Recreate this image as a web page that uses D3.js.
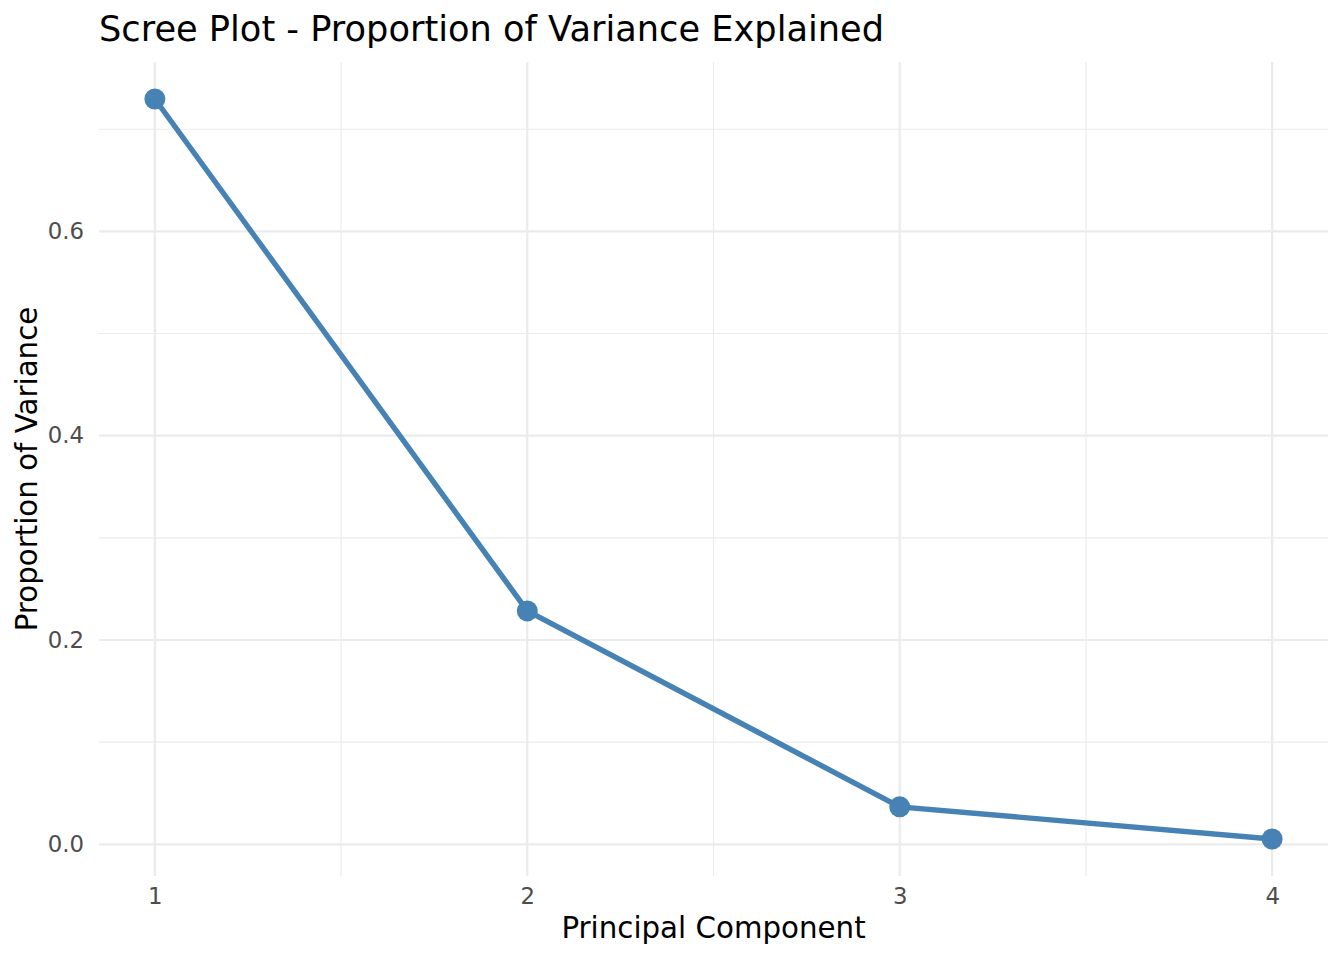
<!DOCTYPE html>
<html>
<head>
<meta charset="utf-8">
<script src="https://cdn.jsdelivr.net/npm/d3@7"></script>
<style>
  body { margin: 0; background: #fff; }
  svg text { font-family: "DejaVu Sans", sans-serif; }
</style>
</head>
<body>
<div id="chart"></div>
<script>
var components = [1, 2, 3, 4];
var varianceProp = [0.7296, 0.2285, 0.0367, 0.0052];
var yTicks = [0.0, 0.2, 0.4, 0.6];
var yMinor = [0.1, 0.3, 0.5, 0.7];
var xMinor = [1.5, 2.5, 3.5];

var width = 1344, height = 960;
var panelLeft = 99, panelRight = 1328, panelTop = 62, panelBottom = 876;

var svg = d3.select("#chart")
    .append("svg")
    .attr("width", width)
    .attr("height", height);

// ggplot style 5% expansion on both axes
var xPad = 0.05 * (d3.max(components) - d3.min(components));
var x = d3.scaleLinear()
    .domain([d3.min(components) - xPad, d3.max(components) + xPad])
    .range([panelLeft, panelRight]);
var yPad = 0.05 * (d3.max(varianceProp) - d3.min(varianceProp));
var y = d3.scaleLinear()
    .domain([d3.min(varianceProp) - yPad, d3.max(varianceProp) + yPad])
    .range([panelBottom, panelTop]);

var grid = svg.append("g");
// minor grid
grid.selectAll("line.ymin").data(yMinor).enter().append("line")
    .attr("x1", panelLeft).attr("x2", panelRight)
    .attr("y1", function(d) { return y(d); }).attr("y2", function(d) { return y(d); })
    .attr("stroke", "#ebebeb").attr("stroke-width", 1.1);
grid.selectAll("line.xmin").data(xMinor).enter().append("line")
    .attr("y1", panelTop).attr("y2", panelBottom)
    .attr("x1", function(d) { return x(d); }).attr("x2", function(d) { return x(d); })
    .attr("stroke", "#ebebeb").attr("stroke-width", 1.1);
// major grid
grid.selectAll("line.ymaj").data(yTicks).enter().append("line")
    .attr("x1", panelLeft).attr("x2", panelRight)
    .attr("y1", function(d) { return y(d); }).attr("y2", function(d) { return y(d); })
    .attr("stroke", "#ebebeb").attr("stroke-width", 2.2);
grid.selectAll("line.xmaj").data(components).enter().append("line")
    .attr("y1", panelTop).attr("y2", panelBottom)
    .attr("x1", function(d) { return x(d); }).attr("x2", function(d) { return x(d); })
    .attr("stroke", "#ebebeb").attr("stroke-width", 2.2);

// axes (labels only)
var yAxis = svg.append("g")
    .attr("transform", "translate(" + panelLeft + ",0)")
    .call(d3.axisLeft(y).tickValues(yTicks).tickFormat(d3.format(".1f")).tickSize(0).tickPadding(15));
yAxis.select(".domain").remove();
yAxis.selectAll("text").attr("fill", "#4d4d4d").style("font-size", "22.8px");

var xAxis = svg.append("g")
    .attr("transform", "translate(0," + panelBottom + ")")
    .call(d3.axisBottom(x).tickValues(components).tickFormat(d3.format("d")).tickSize(0).tickPadding(12));
xAxis.select(".domain").remove();
xAxis.selectAll("text").attr("fill", "#4d4d4d").style("font-size", "22.8px");

// line + points
var line = d3.line()
    .x(function(d, i) { return x(components[i]); })
    .y(function(d) { return y(d); });
svg.append("path")
    .datum(varianceProp)
    .attr("d", line)
    .attr("fill", "none")
    .attr("stroke", "steelblue")
    .attr("stroke-width", 5.4);
svg.selectAll("circle.pt").data(varianceProp).enter().append("circle")
    .attr("cx", function(d, i) { return x(components[i]); })
    .attr("cy", function(d) { return y(d); })
    .attr("r", 10.5)
    .attr("fill", "steelblue");

// titles
svg.append("text")
    .attr("x", 99).attr("y", 41)
    .style("font-size", "35.2px")
    .attr("fill", "#000")
    .text("Scree Plot - Proportion of Variance Explained");
svg.append("text")
    .attr("x", (panelLeft + panelRight) / 2).attr("y", 938)
    .attr("text-anchor", "middle")
    .style("font-size", "29.3px")
    .attr("fill", "#000")
    .text("Principal Component");
svg.append("text")
    .attr("transform", "translate(37," + (panelTop + panelBottom) / 2 + ") rotate(-90)")
    .attr("text-anchor", "middle")
    .style("font-size", "29.3px")
    .attr("fill", "#000")
    .text("Proportion of Variance");
</script>
</body>
</html>
